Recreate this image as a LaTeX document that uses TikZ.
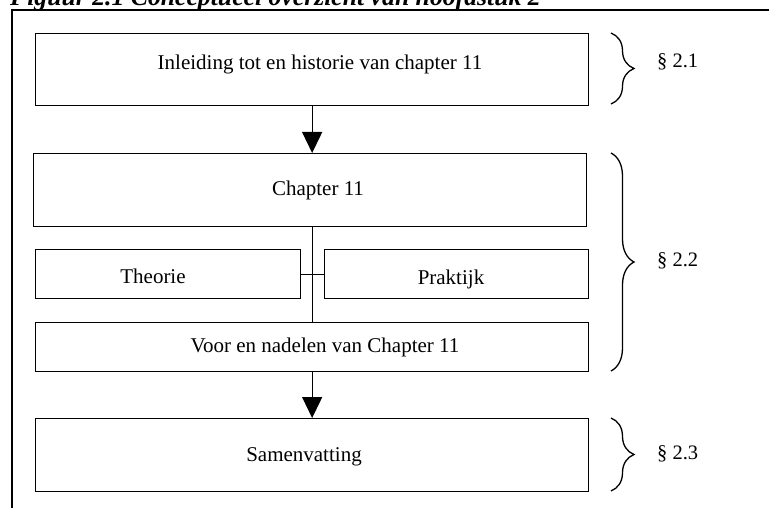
\documentclass[tikz,border=0pt]{standalone}
\usepackage{fontspec}
\setmainfont{Liberation Serif}
\usetikzlibrary{arrows.meta,decorations.pathreplacing}
\begin{document}
\begin{tikzpicture}[x=1pt,y=-1pt,
  box/.style={draw, line width=1.3pt, inner sep=0pt, anchor=north west},
  txt/.style={anchor=base, inner sep=0pt, font=\fontsize{21}{25}\selectfont},
  sect/.style={anchor=base west, inner sep=0pt, font=\fontsize{20.5}{25}\selectfont},
  link/.style={line width=1.3pt},
  flow/.style={line width=1.3pt, -{Triangle[width=20pt,length=21pt]}},
  curly/.style={line width=1.3pt, decorate, decoration={brace, amplitude=23pt}}
]
\useasboundingbox (0,0) rectangle (769,508);
\clip (0,0) rectangle (769,508);

% caption line, partly above the page edge
\node[anchor=base west, inner sep=0pt,
      font=\bfseries\itshape\fontsize{25.7}{30}\selectfont]
  (title) at (10,5.5) {Figuur 2.1 Conceptueel overzicht van hoofdstuk 2};

% outer frame
\coordinate (frameBL) at (12,520);
\coordinate (frameTL) at (12,10);
\coordinate (frameTR) at (780,10);
\draw[line width=2pt] (frameBL) -- (frameTL) -- (frameTR);

% boxes
\node[box, minimum width=553pt, minimum height=72pt] (intro) at (35,33) {};
\node[box, minimum width=553pt, minimum height=73pt] (chap)  at (33,153) {};
\node[box, minimum width=265pt, minimum height=49pt] (theo)  at (35,249) {};
\node[box, minimum width=264pt, minimum height=49pt] (prak)  at (324,249) {};
\node[box, minimum width=553pt, minimum height=49pt] (voor)  at (35,322) {};
\node[box, minimum width=553pt, minimum height=73pt] (samen) at (35,418) {};

% box texts
\node[txt] (tIntro) at (320,70)  {Inleiding tot en historie van chapter 11};
\node[txt] (tChap)  at (318,196) {Chapter 11};
\node[txt] (tTheo)  at (153,283) {Theorie};
\node[txt] (tPrak)  at (451,284) {Praktijk};
\node[txt] (tVoor)  at (325,352) {Voor en nadelen van Chapter 11};
\node[txt] (tSamen) at (304,461) {Samenvatting};

% connectors
\draw[flow] (intro.south) -- (intro.south |- chap.north);
\draw[link] (voor.north |- chap.south) -- (voor.north);
\draw[link] (theo.east) -- (prak.west);
\draw[flow] (voor.south) -- (samen.north);

% section braces
\draw[curly] (611,33) -- (611,104);
\draw[curly] (611,153) -- (611,371);
\draw[curly] (611,418) -- (611,491);

\node[sect] (s1) at (657,68)  {§ 2.1};
\node[sect] (s2) at (657,266) {§ 2.2};
\node[sect] (s3) at (657,459) {§ 2.3};
\end{tikzpicture}
\end{document}
